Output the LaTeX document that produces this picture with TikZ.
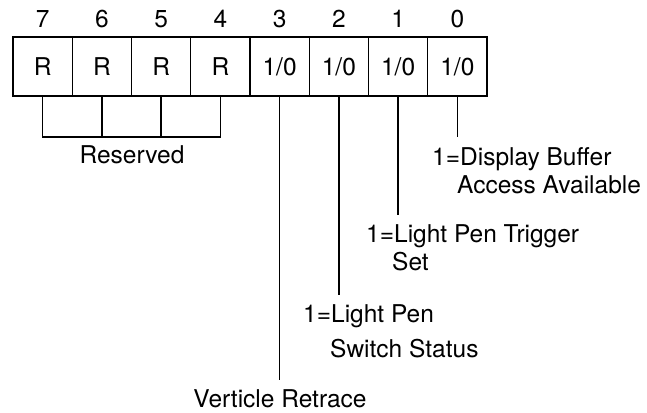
\documentclass[tikz,border=0pt]{standalone}
\usepackage{fontspec}
\setmainfont{TeX Gyre Heros}
\begin{document}
\begin{tikzpicture}[x=1pt,y=-1pt,
  cell/.style={draw,line width=1.3pt,minimum width=59.25pt,minimum height=59pt,inner sep=0pt,anchor=center},
  bitnum/.style={anchor=base,inner sep=0pt},
  desc/.style={anchor=base west,inner sep=0pt},
  conn/.style={line width=1.3pt}]
\useasboundingbox (0,0) rectangle (647,412);
\fontsize{24.5pt}{29pt}\selectfont
% cells
\foreach \b [count=\k from 0] in {7,6,5,4,3,2,1,0}{
  \pgfmathsetmacro{\cx}{13+59.25*(\k+0.5)}
  \ifnum\b>3
    \node[cell] (c\b) at (\cx,66.5) {R};
  \else
    \node[cell] (c\b) at (\cx,66.5) {1/0};
  \fi
  \node[bitnum] (n\b) at (\cx,28) {\b};
}
% reserved bracket
\coordinate (rb) at (0,137);
\draw[conn] (c7.south) -- (c7.south |- rb) -- (c4.south |- rb) -- (c4.south);
\draw[conn] (c6.south) -- (c6.south |- rb);
\draw[conn] (c5.south) -- (c5.south |- rb);
\node[bitnum] (res) at (132,163) {Reserved};
% bit 0
\coordinate (e0) at (c0.south |- 0,137);
\draw[conn] (c0.south) -- (e0);
\node[desc] (d0a) at (432,165) {1=Display Buffer};
\node[desc] (d0b) at (457,193) {Access Available};
% bit 1
\coordinate (e1) at (c1.south |- 0,215);
\draw[conn] (c1.south) -- (e1);
\node[desc] (d1a) at (366,242) {1=Light Pen Trigger};
\node[desc] (d1b) at (392,270) {Set};
% bit 2
\coordinate (e2) at (c2.south |- 0,295);
\draw[conn] (c2.south) -- (e2);
\node[desc] (d2a) at (303,322) {1=Light Pen};
\node[desc] (d2b) at (330,357) {Switch Status};
% bit 3
\coordinate (e3) at (c3.south |- 0,380);
\draw[conn] (c3.south) -- (e3);
\node[bitnum] (d3) at (280,407) {Verticle Retrace};
\end{tikzpicture}
\end{document}
